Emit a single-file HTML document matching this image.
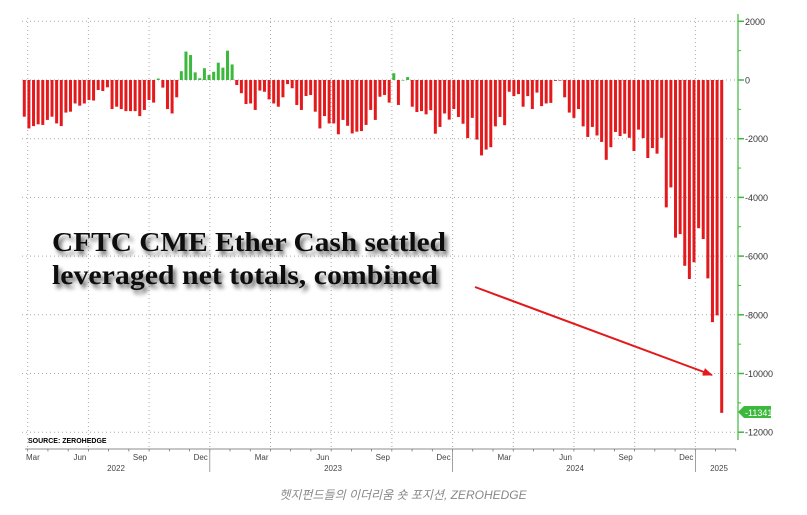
<!DOCTYPE html>
<html><head><meta charset="utf-8"><style>
html,body{margin:0;padding:0;background:#fff;width:807px;height:515px;overflow:hidden}
svg{display:block}
</style></head><body>
<svg id="chart" width="807" height="515" xmlns="http://www.w3.org/2000/svg" font-family="Liberation Sans, sans-serif">
<defs>
<filter id="sh" x="-5%" y="-20%" width="115%" height="160%"><feGaussianBlur in="SourceAlpha" stdDeviation="2"/><feOffset dx="3" dy="4"/><feComponentTransfer><feFuncA type="linear" slope="0.6"/></feComponentTransfer><feMerge><feMergeNode/><feMergeNode in="SourceGraphic"/></feMerge></filter>
<marker id="ah" markerWidth="10" markerHeight="8" refX="9" refY="4" orient="auto" markerUnits="userSpaceOnUse"><path d="M0,0 L10,4 L0,8 z" fill="#e3191c"/></marker>
</defs>
<g id="grid"></g>
<g id="bars"></g>
<g id="yaxis"></g>
<g id="xaxis"></g>
<text x="28" y="443" font-size="7" font-weight="bold" fill="#000">SOURCE: ZEROHEDGE</text>
<g filter="url(#sh)" font-family="Liberation Serif, serif" font-weight="bold" font-size="27" fill="#111">
<text x="52" y="251" textLength="394" lengthAdjust="spacingAndGlyphs">CFTC CME Ether Cash settled</text>
<text x="52" y="284" textLength="386" lengthAdjust="spacingAndGlyphs">leveraged net totals, combined</text>
</g>
<line x1="475" y1="287" x2="712" y2="375" stroke="#e3191c" stroke-width="2" marker-end="url(#ah)"/>
<g>
<path d="M738,412 L744,406 L771,406 L771,418 L744,418 z" fill="#3cb93c"/>
<text x="745" y="416" font-size="9" fill="#fff">-11341</text>
</g>
<text x="403" y="499" text-anchor="middle" font-size="12" font-style="italic" fill="#888" font-family="Liberation Sans, 'Noto Sans CJK KR', sans-serif">헷지펀드들의 이더리움 숏 포지션, ZEROHEDGE</text>
</svg>
<script>
const values = [-1250,-1650,-1570,-1510,-1530,-1360,-1250,-1480,-1570,-1110,-1080,-800,-875,-800,-680,-700,-340,-375,-250,-990,-910,-990,-1060,-1060,-1060,-1230,-1020,-680,-770,50,-260,-990,-1140,-590,300,970,850,260,60,400,170,280,590,420,1000,530,-170,-450,-820,-800,-1020,-360,-400,-660,-800,-910,-590,-140,-280,-850,-1020,-545,-510,-1080,-1650,-1230,-1480,-1480,-1850,-1360,-1560,-1820,-1760,-1740,-1530,-1020,-1360,-570,-510,-770,230,-850,0,100,
-910,-1090,-1060,-1170,-1030,-1830,-1600,-1140,-1350,-990,-1260,-1490,-1980,-1290,-2030,-2570,-2370,-2290,-1580,-1260,-1540,-400,-550,-480,-910,-550,-990,-430,-890,-800,-780,-30,-10,-590,-1110,-1290,-990,-1580,-1940,-1600,-1890,-2110,-2720,-2290,-1770,-1910,-1830,-1970,-2420,-1690,-1980,-2660,-2320,-2510,-1970,-4340,-3660,
-5370,-5250,-6330,-6780,-6210,-5050,-5420,-6760,-8250,-8020,-11341];
const yTicks = [2000,0,-2000,-4000,-6000,-8000,-10000,-12000];
const monthLabels = ["Mar","Jun","Sep","Dec","Mar","Jun","Sep","Dec","Mar","Jun","Sep","Dec"];
const yearLabels = ["2022","2023","2024","2025"];
const NS="http://www.w3.org/2000/svg";
function mk(t,a,p){const e=document.createElementNS(NS,t);for(const k in a)e.setAttribute(k,a[k]);p.appendChild(e);return e;}
const y = v => 80 - v*0.02935;
const x0=24.3, x1=721.7, step=(x1-x0)/(values.length-1);
const xb = i => x0 + i*step;
const gx = k => 27.7 + k*60.7;
const grid=document.getElementById('grid'), bars=document.getElementById('bars'), ya=document.getElementById('yaxis'), xa=document.getElementById('xaxis');
yTicks.forEach(t=>{
  const l=mk('line',{x1:22,x2:736,y1:y(t),y2:y(t),stroke:'#aaa','stroke-width':1,'stroke-dasharray':'1,3'},grid);
  
  
  const tk=mk('line',{x1:738,x2:744,y1:y(t),y2:y(t),stroke:'#3cb93c','stroke-width':1.5},ya);
  
  
  const tx=mk('text',{x:745,y:y(t)+3.5,'font-size':9,fill:'#333'},ya);
  
  
  tx.textContent=String(t);
});
for(let t=1000;t>=-11000;t-=2000){mk('line',{x1:738,x2:741,y1:y(t),y2:y(t),stroke:'#3cb93c'},ya);}
mk('line',{x1:738,x2:738,y1:14,y2:440,stroke:'#3cb93c','stroke-width':1.2},ya);
for(let k=0;k<12;k++){
  const l=mk('line',{x1:gx(k),x2:gx(k),y1:18,y2:449,stroke:'#aaa','stroke-width':1,'stroke-dasharray':'1,3'},grid);
  
  
}
values.forEach((v,i)=>{
  const top=Math.min(y(0),y(v)), h=Math.max(Math.abs(y(v)-y(0)),0.6);
  const r=mk('rect',{x:xb(i)-1.5,y:top,width:3,height:h,fill:v>=0?'#3cb93c':'#e3191c'},bars);
  
  
});
mk('line',{x1:25,x2:736,y1:449,y2:449,stroke:'#666','stroke-width':0.8},xa);
for(let k=0;k<36;k++){const tx=27.7+k*20.23;mk('line',{x1:tx,x2:tx,y1:449,y2:451.5,stroke:'#666','stroke-width':0.7},xa);}
monthLabels.forEach((m,k)=>{
  const first=k===0;
  const t=mk('text',{x:first?26:gx(k)-2,y:460,'font-size':8,fill:'#444','text-anchor':first?'start':'end'},xa);
  
  
  t.textContent=m;
});
const yearX=[116,333,575,719];
yearLabels.forEach((yl,k)=>{
  const t=mk('text',{x:yearX[k],y:471,'font-size':8,fill:'#444','text-anchor':'middle'},xa);
  
  
  t.textContent=yl;
});
[3,7,11].forEach(k=>{mk('line',{x1:gx(k),x2:gx(k),y1:449,y2:472,stroke:'#888','stroke-width':0.8},xa);});
</script>
</body></html>
